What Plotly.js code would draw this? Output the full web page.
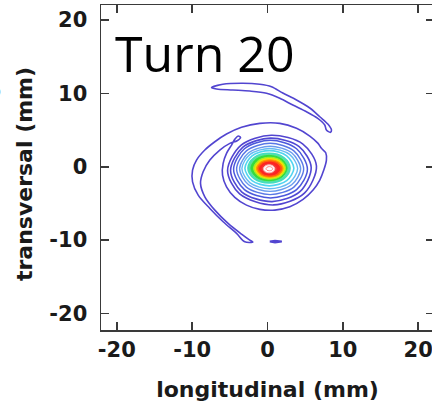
<!DOCTYPE html>
<html>
<head>
<meta charset="utf-8">
<script src="https://cdn.plot.ly/plotly-3.0.1.min.js"></script>
<style>
html,body{margin:0;padding:0;overflow:hidden;background:#fff;}
#chart{width:440px;height:406px;}
</style>
</head>
<body>
<div id="chart"></div>
<script>
// ---- data (mm) ----
var tickValues = [-20, -10, 0, 10, 20];
var tickLabels = ["-20", "-10", "0", "10", "20"];
var xTitle = "longitudinal (mm)";
var yTitle = "transversal (mm)";
var panelLabel = "Turn 20";

// outermost level: upper arm
var armUpperX = [-7.43,-5.93,-3.28,-1.02,0.53,2.03,3.85,5.61,6.94,8.04,8.49,8.36,7.82,7.60,6.67,5.17,3.36,1.63,-0.13,-2.35,-4.60,-6.76,-7.43];
var armUpperY = [10.78,11.24,11.38,11.24,10.91,10.05,9.10,8.01,6.82,5.78,5.01,4.69,5.01,5.69,6.60,7.50,8.41,9.33,10.01,10.32,10.46,10.60,10.78];

// outermost level: core surround + left arm
var spiralX = [-1.95,-3.01,-4.11,-5.89,-7.65,-9.20,-9.95,-9.95,-9.42,-8.32,-6.99,-5.44,-3.45,-1.02,1.63,3.85,5.61,6.71,7.16,7.73,7.82,7.47,6.94,6.05,4.72,2.96,0.97,-1.02,-2.79,-4.34,-5.44,-5.97,-5.89,-5.44,-4.77,-4.34,-3.90,-3.58,-4.03,-5.00,-6.33,-7.65,-8.54,-8.89,-8.32,-6.99,-5.23,-3.45,-2.35,-1.95];
var spiralY = [-10.25,-10.23,-9.09,-7.50,-5.68,-3.86,-2.05,-0.45,0.91,2.28,3.41,4.46,5.38,5.92,5.92,5.24,4.19,3.19,2.51,1.91,0.91,-0.45,-1.81,-3.18,-4.45,-5.46,-5.91,-5.81,-5.23,-4.17,-2.73,-1.13,0.46,1.83,2.96,3.74,4.19,4.01,3.55,3.19,2.28,0.91,-0.68,-2.26,-4.09,-5.91,-7.72,-9.18,-10.00,-10.25];

// outermost level: small island below
var islandX = [0.3,1.0,1.9,1.0,0.3];
var islandY = [-10.2,-10.08,-10.2,-10.32,-10.2];

// rings around the core, outer to inner
var ring2X = [6.5,4.7,0.5,-3.5,-5.3,-3.7,0.8,4.9,6.5];
var ring2Y = [0.1,3.1,4.3,2.95,-0.5,-3.7,-5.2,-3.6,0.1];
var ring3X = [5.8,4.2,0.4,-3.3,-4.9,-3.4,0.6,4.3,5.8];
var ring3Y = [-0.1,2.75,3.9,2.65,-0.5,-3.45,-4.75,-3.4,-0.1];
var ring4X = [5.3,3.86,0.4,-3.06,-4.5,-3.06,0.4,3.86,5.3];
var ring4Y = [-0.33,2.45,3.6,2.45,-0.33,-3.11,-4.25,-3.11,-0.33];
var ring5X = [4.8,3.5,0.35,-2.8,-4.1,-2.8,0.35,3.5,4.8];
var ring5Y = [-0.3,2.17,3.2,2.17,-0.3,-2.77,-3.8,-2.77,-0.3];
var ring6X = [4.4,3.21,0.35,-2.51,-3.7,-2.51,0.35,3.21,4.4];
var ring6Y = [-0.28,1.9,2.8,1.9,-0.28,-2.46,-3.35,-2.46,-0.28];
var ring7X = [4.0,2.92,0.3,-2.32,-3.4,-2.32,0.3,2.92,4.0];
var ring7Y = [-0.25,1.69,2.5,1.69,-0.25,-2.19,-3.0,-2.19,-0.25];
var ring8X = [3.5,2.55,0.25,-2.05,-3.0,-2.05,0.25,2.55,3.5];
var ring8Y = [-0.2,1.5,2.2,1.5,-0.2,-1.9,-2.6,-1.9,-0.2];
var ring9X = [3.0,2.18,0.2,-1.78,-2.6,-1.78,0.2,2.18,3.0];
var ring9Y = [-0.18,1.26,1.85,1.26,-0.18,-1.62,-2.2,-1.62,-0.18];
var ring10X = [2.6,1.9,0.2,-1.5,-2.2,-1.5,0.2,1.9,2.6];
var ring10Y = [-0.18,1.04,1.55,1.04,-0.18,-1.4,-1.9,-1.4,-0.18];
var ring11X = [2.4,1.78,0.28,-1.22,-1.85,-1.22,0.28,1.78,2.4];
var ring11Y = [-0.2,0.86,1.3,0.86,-0.2,-1.26,-1.7,-1.26,-0.2];
var ring12X = [2.25,1.68,0.3,-1.08,-1.65,-1.08,0.3,1.68,2.25];
var ring12Y = [-0.22,0.73,1.12,0.73,-0.22,-1.17,-1.55,-1.17,-0.22];
var ring13X = [2.07,1.55,0.3,-0.95,-1.46,-0.95,0.3,1.55,2.07];
var ring13Y = [-0.24,0.6,0.95,0.6,-0.24,-1.08,-1.42,-1.08,-0.24];
var ring14X = [1.9,1.43,0.31,-0.81,-1.28,-0.81,0.31,1.43,1.9];
var ring14Y = [-0.25,0.49,0.8,0.49,-0.25,-0.99,-1.3,-0.99,-0.25];
var ring15X = [1.65,1.25,0.3,-0.65,-1.05,-0.65,0.3,1.25,1.65];
var ring15Y = [-0.25,0.37,0.62,0.37,-0.25,-0.87,-1.12,-0.87,-0.25];
var ring16X = [1.2,0.92,0.23,-0.46,-0.75,-0.46,0.23,0.92,1.2];
var ring16Y = [-0.27,0.19,0.38,0.19,-0.27,-0.73,-0.92,-0.73,-0.27];
var ring17X = [0.97,0.75,0.21,-0.33,-0.55,-0.33,0.21,0.75,0.97];
var ring17Y = [-0.28,0.1,0.26,0.1,-0.28,-0.66,-0.82,-0.66,-0.28];
var ring18X = [0.7,0.57,0.25,-0.07,-0.2,-0.07,0.25,0.57,0.7];
var ring18Y = [-0.27,-0.07,0.02,-0.07,-0.27,-0.47,-0.55,-0.47,-0.27];

// ---- styling ----
var outerBlue = "#5245d0";
function lineTrace(x, y, color, width, smooth) {
  return {type:"scatter", mode:"lines", x:x, y:y, hoverinfo:"skip",
          line:{color:color, width:width, shape:smooth ? "spline" : "linear", smoothing:0.9}};
}
function fillTrace(x, y, color, lineColor, width) {
  return {type:"scatter", mode:"lines", x:x, y:y, hoverinfo:"skip", fill:"toself", fillcolor:color,
          line:{color:lineColor, width:width, shape:"spline", smoothing:1}};
}

var traces = [
  lineTrace(armUpperX, armUpperY, outerBlue, 1.6, true),
  lineTrace(spiralX, spiralY, outerBlue, 1.6, true),
  lineTrace(islandX, islandY, outerBlue, 2, false),
  lineTrace(ring2X, ring2Y, outerBlue, 1.6, true),
  lineTrace(ring3X, ring3Y, "#5048d4", 1.6, true),
  lineTrace(ring4X, ring4Y, "#4c58dc", 1.5, true),
  lineTrace(ring5X, ring5Y, "#5a78e6", 1.4, true),
  lineTrace(ring6X, ring6Y, "#6a9cee", 1.4, true),
  lineTrace(ring7X, ring7Y, "#68bcf2", 1.4, true),
  lineTrace(ring8X, ring8Y, "#50d4f0", 1.6, true),
  fillTrace(ring9X, ring9Y, "#56e2a0", "#44dcc0", 1.5),
  fillTrace(ring10X, ring10Y, "#34dc3c", "#34dc3c", 1),
  fillTrace(ring11X, ring11Y, "#a8ee28", "#a8ee28", 1),
  fillTrace(ring12X, ring12Y, "#f5e400", "#f5e400", 1),
  fillTrace(ring13X, ring13Y, "#ff9a00", "#ff9a00", 1),
  fillTrace(ring14X, ring14Y, "#ff5a10", "#ff5a10", 1),
  fillTrace(ring15X, ring15Y, "#ff2222", "#ff2222", 1),
  fillTrace(ring16X, ring16Y, "#f23a3a", "#f23a3a", 1),
  fillTrace(ring17X, ring17Y, "#ffffff", "#ffb4b4", 1),
  lineTrace(ring18X, ring18Y, "#ff8080", 1, true)
];

var titleFont = {family:"DejaVu Sans", size:22, color:"#1a1a1a", weight:"bold"};
var axisCommon = {
  showgrid:false, zeroline:false, showline:true, mirror:"ticks",
  linecolor:"#3a3a3a", linewidth:1.5,
  ticks:"inside", ticklen:8, tickwidth:1.5, tickcolor:"#3a3a3a",
  tickmode:"array", tickvals:tickValues, ticktext:tickLabels,
  tickfont:{family:"DejaVu Sans", size:21, color:"#1a1a1a", weight:"bold"},
  fixedrange:true
};

var layout = {
  width:440, height:406,
  margin:{l:101, r:6, t:5, b:76},
  paper_bgcolor:"#ffffff", plot_bgcolor:"#ffffff",
  showlegend:false,
  xaxis:Object.assign({}, axisCommon, {
    range:[-22.1, 22.1],
    title:{text:xTitle, standoff:21, font:titleFont}
  }),
  yaxis:Object.assign({}, axisCommon, {
    range:[-22.25, 22.05],
    ticklabelstandoff:8
  }),
  annotations:[
    {text:yTitle, xref:"paper", yref:"paper", x:-0.231, y:0.48, xanchor:"center", yanchor:"middle",
     textangle:-90, showarrow:false, font:titleFont},
    {text:panelLabel, xref:"x", yref:"y", x:-8.3, y:15.5, xanchor:"center", yanchor:"middle",
     showarrow:false, font:{family:"Open Sans", size:50, color:"#000000"}},
    {text:"o", xref:"paper", yref:"paper", x:-0.294, y:0.738, xanchor:"right", yanchor:"middle",
     showarrow:false, font:{family:"DejaVu Sans", size:18, color:"#2030e0"}}
  ]
};

Plotly.newPlot("chart", traces, layout, {displayModeBar:false, staticPlot:true});
</script>
</body>
</html>
